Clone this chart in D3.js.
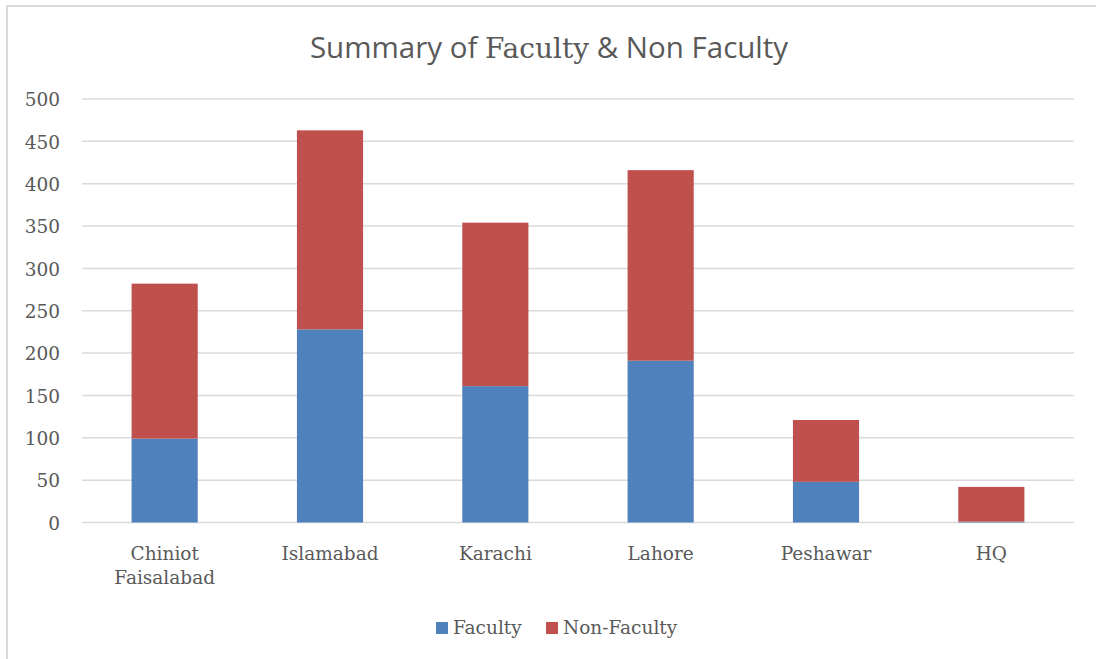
<!DOCTYPE html>
<html>
<head>
<meta charset="utf-8">
<script src="https://cdn.jsdelivr.net/npm/d3@7"></script>
<style>
  html, body { margin: 0; padding: 0; background: #fff; }
  svg { display: block; }
</style>
</head>
<body>
<svg id="chart"></svg>
<script>
const campuses = ["Chiniot\nFaisalabad", "Islamabad", "Karachi", "Lahore", "Peshawar", "HQ"];
const faculty = [99, 228, 161, 191, 48, 1];
const nonFaculty = [183, 235, 193, 225, 73, 41];
const seriesNames = ["Faculty", "Non-Faculty"];
const seriesColors = ["#4f81bd", "#c0504d"];
const yTicks = [0, 50, 100, 150, 200, 250, 300, 350, 400, 450, 500];

const width = 1096;
const height = 659;
const margin = { top: 99, right: 22, bottom: 136, left: 82 };

const svg = d3.select("#chart").attr("width", width).attr("height", height);

// chart frame (runs off the right and bottom edges like the screenshot)
svg.append("rect")
    .attr("x", 7).attr("y", 6)
    .attr("width", width + 10).attr("height", height + 10)
    .attr("fill", "#fff").attr("stroke", "#d9d9d9").attr("stroke-width", 2);

const rows = campuses.map((c, i) => ({ campus: c, Faculty: faculty[i], "Non-Faculty": nonFaculty[i] }));
const stacked = d3.stack().keys(seriesNames)(rows);

const x = d3.scaleBand()
    .domain(campuses)
    .range([margin.left, width - margin.right])
    .paddingInner(0.6)
    .paddingOuter(0.3);

const y = d3.scaleLinear()
    .domain([0, 500])
    .range([height - margin.bottom - 0.5, margin.top]);

const serif = "'DejaVu Serif', serif";
const textColor = "#595959";

// gridlines
svg.append("g")
    .selectAll("line")
    .data(yTicks)
    .join("line")
    .attr("x1", margin.left)
    .attr("x2", width - margin.right)
    .attr("y1", d => y(d))
    .attr("y2", d => y(d))
    .attr("stroke", "#d9d9d9")
    .attr("stroke-width", 1.5);

// y axis labels
const yAxis = svg.append("g")
    .attr("transform", `translate(${margin.left},0)`)
    .call(d3.axisLeft(y).tickValues(yTicks).tickSize(0).tickPadding(22));
yAxis.select(".domain").remove();
yAxis.selectAll("text")
    .attr("font-family", serif)
    .attr("font-size", 18.5)
    .attr("fill", textColor)
    .attr("dy", "0.36em");

// stacked bars
svg.append("g")
    .selectAll("g")
    .data(stacked)
    .join("g")
    .attr("fill", (d, i) => seriesColors[i])
    .selectAll("rect")
    .data(d => d)
    .join("rect")
    .attr("x", d => x(d.data.campus))
    .attr("width", x.bandwidth())
    .attr("y", d => y(d[1]))
    .attr("height", d => y(d[0]) - y(d[1]));

// x axis labels
const xAxis = svg.append("g")
    .attr("transform", `translate(0,${y(0)})`)
    .call(d3.axisBottom(x).tickSize(0).tickFormat(""));
xAxis.select(".domain").remove();
xAxis.selectAll(".tick").each(function (d) {
    const t = d3.select(this).append("text")
        .attr("text-anchor", "middle")
        .attr("font-family", serif)
        .attr("font-size", 18.5)
        .attr("fill", textColor);
    d.split("\n").forEach((line, i) => {
        t.append("tspan").attr("x", 0).attr("y", 37 + i * 24).text(line);
    });
});

// title: mixed fonts as in the original
const title = svg.append("text")
    .attr("x", width / 2 + 1)
    .attr("y", 58)
    .attr("text-anchor", "middle")
    .attr("fill", textColor)
    .style("font-size", "29.5px")
    .style("font-family", "'Open Sans', sans-serif");
title.append("tspan").text("Summary of ");
title.append("tspan").style("font-family", serif).style("font-size", "28px").text("Faculty");
title.append("tspan").text(" & Non Faculty");

// legend
const legendItems = [{ name: "Faculty", x: 436 }, { name: "Non-Faculty", x: 546 }];
const legend = svg.append("g");
legendItems.forEach((item, i) => {
    legend.append("rect")
        .attr("x", item.x).attr("y", 622)
        .attr("width", 12).attr("height", 12)
        .attr("fill", seriesColors[i]);
    legend.append("text")
        .attr("x", item.x + 17).attr("y", 634)
        .attr("font-family", serif)
        .attr("font-size", 18.5)
        .attr("fill", textColor)
        .text(item.name);
});
</script>
</body>
</html>
